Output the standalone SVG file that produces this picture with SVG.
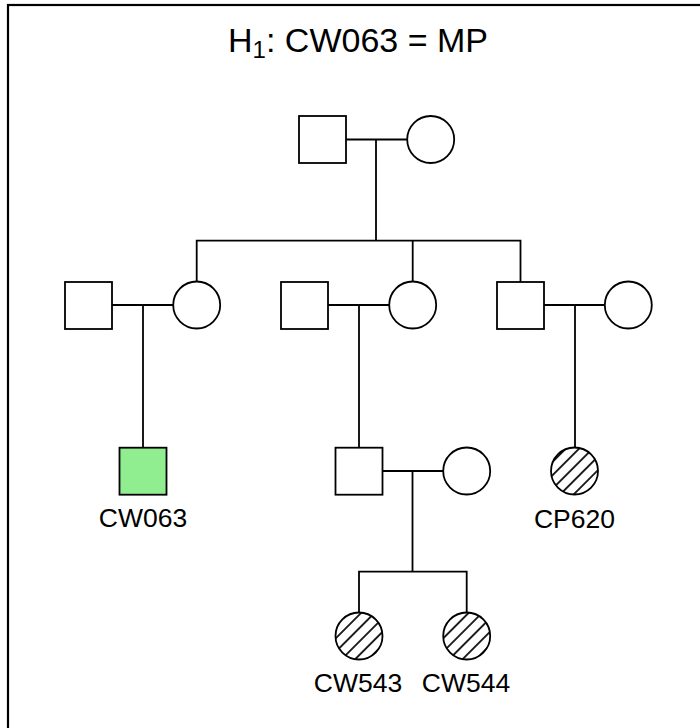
<svg xmlns="http://www.w3.org/2000/svg" width="700" height="728" viewBox="0 0 700 728">
  <style>
    .m { fill: #ffffff; stroke: #000000; stroke-width: 1.8; }
    .f { fill: #ffffff; stroke: #000000; stroke-width: 1.8; }
    .aff { fill: #90EE90; stroke: #000000; stroke-width: 1.8; }
    .hat { fill: url(#hatch); stroke: #000000; stroke-width: 1.8; }
    .ln { fill: none; stroke: #000000; stroke-width: 1.8; }
    .lbl { font-family: "Liberation Sans", Arial, sans-serif; font-size: 26.5px; fill: #000000; text-anchor: middle; }
    .title { font-family: "Liberation Sans", Arial, sans-serif; font-size: 34px; fill: #000000; text-anchor: middle; }
  </style>
  <defs>
    <pattern id="hatch" patternUnits="userSpaceOnUse" width="9.5" height="9.5" patternTransform="rotate(-45)">
      <rect x="0" y="0" width="9.5" height="9.5" fill="#ffffff"/>
      <line x1="0" y1="4.75" x2="9.5" y2="4.75" stroke="#000000" stroke-width="1.7"/>
    </pattern>
  </defs>
  <rect x="0" y="0" width="700" height="728" fill="#ffffff"/>
  <rect x="8" y="5" width="710" height="740" fill="none" stroke="#000000" stroke-width="2.2"/>

  <text class="title" x="358" y="52">H<tspan font-size="24" dy="6">1</tspan><tspan dy="-6">: CW063 = MP</tspan></text>

  <g id="connectors">
    <path class="ln" d="M346 139.5 H407.2 M376 139.5 V240.7"/>
    <path class="ln" d="M196.7 281.5 V240.7 H520.5 V282 M412.7 240.7 V281.5"/>
    <path class="ln" d="M112 305 H173.2 M143 305 V447.7"/>
    <path class="ln" d="M328 305 H389.2 M359 305 V447.7"/>
    <path class="ln" d="M544 305 H604.8 M575 305 V447.5"/>
    <path class="ln" d="M382.5 471 H443.2 M412.5 471 V571.7"/>
    <path class="ln" d="M359 612.5 V571.7 H466.7 V612.5"/>
  </g>

  <g id="gp_male"><rect class="m" x="299" y="116" width="47" height="47"/></g>
  <g id="gp_female"><circle class="f" cx="430.7" cy="139.5" r="23.5"/></g>

  <g id="a_male"><rect class="m" x="65" y="282" width="47" height="47"/></g>
  <g id="a_female"><circle class="f" cx="196.7" cy="305" r="23.5"/></g>
  <g id="b_male"><rect class="m" x="281" y="282" width="47" height="47"/></g>
  <g id="b_female"><circle class="f" cx="412.7" cy="305" r="23.5"/></g>
  <g id="c_male"><rect class="m" x="497" y="282" width="47" height="47"/></g>
  <g id="c_female"><circle class="f" cx="628.3" cy="305" r="23.5"/></g>

  <g id="CW063"><rect class="aff" x="119.5" y="447.7" width="47" height="47"/><text class="lbl" x="143" y="527">CW063</text></g>
  <g id="d_male"><rect class="m" x="335.5" y="447.7" width="47" height="47"/></g>
  <g id="d_female"><circle class="f" cx="466.7" cy="471" r="23.5"/></g>
  <g id="CP620"><circle class="hat" cx="574.5" cy="471" r="23.5"/><text class="lbl" x="574.5" y="528">CP620</text></g>

  <g id="CW543"><circle class="hat" cx="359" cy="636" r="23.5"/><text class="lbl" x="358" y="692">CW543</text></g>
  <g id="CW544"><circle class="hat" cx="466.7" cy="636" r="23.5"/><text class="lbl" x="466" y="692">CW544</text></g>
</svg>
